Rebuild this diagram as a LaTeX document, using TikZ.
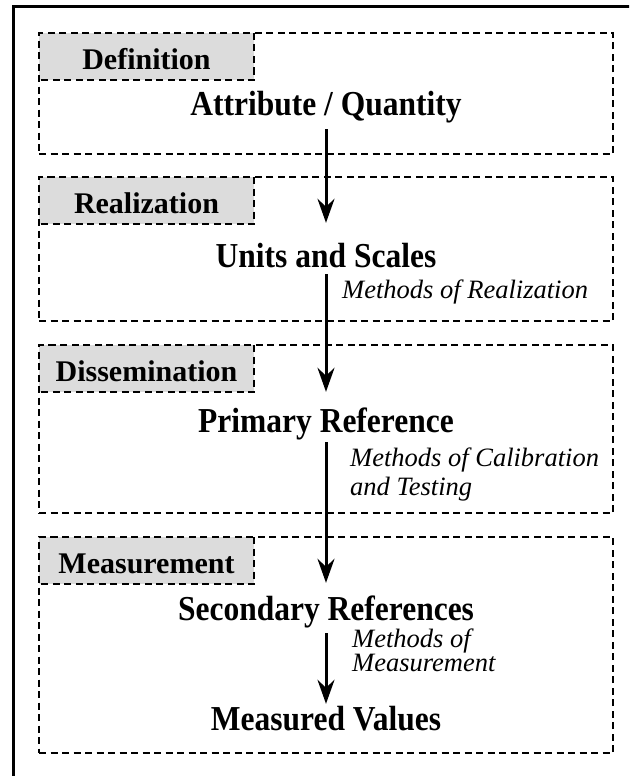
\documentclass[tikz,border=0pt]{standalone}
\usepackage{fontspec}
\setmainfont{Liberation Serif}
\newfontfamily\headfont[FakeStretch=0.9]{Liberation Serif}
\usetikzlibrary{arrows.meta}
\definecolor{labgrey}{HTML}{DCDCDC}
\begin{document}
\begin{tikzpicture}[x=1pt,y=-1pt,
  dashline/.style={line width=1.5pt, dash pattern=on 7pt off 4.5pt},
  stagebox/.style={dashline, draw, anchor=north west, minimum width=574pt,
    inner sep=0pt, outer sep=0pt},
  labelbox/.style={fill=labgrey, anchor=north west, minimum width=215pt,
    minimum height=47pt, inner sep=0pt, outer sep=0pt, text height=28pt,
    text depth=2pt, font=\bfseries\fontsize{30}{34}\selectfont},
  title/.style={anchor=base, inner sep=0pt, text height=24pt, text depth=7pt,
    font=\headfont\bfseries\fontsize{35}{40}\selectfont},
  note/.style={anchor=base west, inner sep=0pt, align=left,
    font=\itshape\fontsize{26.5}{29}\selectfont},
  flow/.style={line width=3pt, -{Stealth[length=24pt,width=17pt,inset=8pt]}}
]
\useasboundingbox (0,0) rectangle (629,776);
\clip (0,0) rectangle (629,776);

% outer frame (runs off the right and bottom edges)
\draw[line width=3pt] (13.5,800) -- (13.5,6.5) -- (650,6.5);

% stage labels
\node[labelbox] (l1) at (39,33)  {Definition};
\node[labelbox] (l2) at (39,177) {Realization};
\node[labelbox] (l3) at (39,345) {Dissemination};
\node[labelbox] (l4) at (39,537) {Measurement};
\foreach \l in {l1,l2,l3,l4}
  \draw[dashline] (\l.north east) -- (\l.south east) -- (\l.south west);

% stage frames
\node[stagebox, minimum height=121pt] (b1) at (39,33)  {};
\node[stagebox, minimum height=144pt] (b2) at (39,177) {};
\node[stagebox, minimum height=168pt] (b3) at (39,345) {};
\node[stagebox, minimum height=216pt] (b4) at (39,537) {};

% quantities
\node[title] (t1) at (326,115) {Attribute / Quantity};
\node[title] (t2) at (326,267) {Units and Scales};
\node[title] (t3) at (326,432) {Primary Reference};
\node[title] (t4) at (326,620) {Secondary References};
\node[title] (t5) at (326,730) {Measured Values};

% methods (a multi-line node sits on the baseline of its last line)
\node[note] (n2) at (342,298) {Methods of Realization};
\node[note] (n3) at (350,495) {Methods of Calibration\\and Testing};
\node[note, font=\itshape\fontsize{26.5}{21}\selectfont] (n4) at (352,671)
  {Methods of\\Measurement};

% flow of traceability
\draw[flow, shorten <=7pt, shorten >=20pt] (t1.south) -- (t2.north);
\draw[flow, shorten >=16pt] (t2.south) -- (t3.north);
\draw[flow, shorten <=3pt, shorten >=13pt] (t3.south) -- (t4.north);
\draw[flow, shorten <=6pt, shorten >=2pt] (t4.south) -- (t5.north);
\end{tikzpicture}
\end{document}
